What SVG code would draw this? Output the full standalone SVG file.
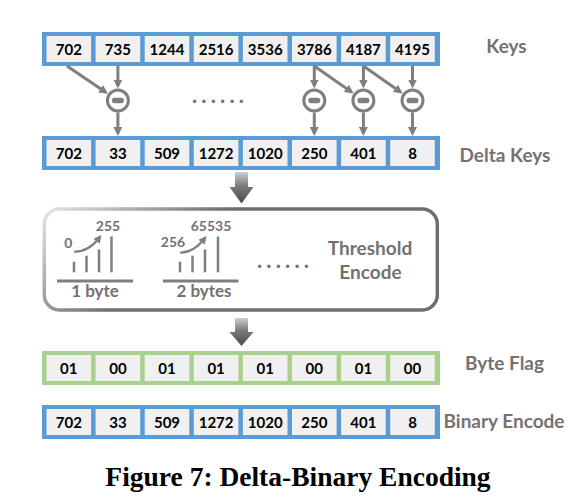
<svg xmlns="http://www.w3.org/2000/svg" width="578" height="502" viewBox="0 0 578 502">
<style>
.blue{fill:#5b9bd5}
.green{fill:#a9d18e}
.cell{fill:#f0f0f0}
.ct{font-family:Lato,"Liberation Sans",sans-serif;font-weight:bold;font-size:15px;fill:#000;text-anchor:middle}
.lbl{font-family:Lato,"Liberation Sans",sans-serif;font-weight:bold;font-size:19px;fill:#767171;text-anchor:middle}
.sm{font-family:Lato,"Liberation Sans",sans-serif;font-weight:bold;font-size:14px;fill:#767171;text-anchor:middle}
.by{font-family:Lato,"Liberation Sans",sans-serif;font-weight:bold;font-size:17px;fill:#767171;text-anchor:middle}
.dots{font-family:Lato,"Liberation Sans",sans-serif;font-weight:bold;font-size:22px;fill:#767171}
.conn{stroke:#7f7f7f;stroke-width:3;fill:none;marker-end:url(#ah)}
.circ{fill:#fff;stroke:#7f7f7f;stroke-width:3}
.minus{fill:#7f7f7f}
.bar{stroke:#7f7f7f;stroke-width:2.5}
.base{stroke:#7f7f7f;stroke-width:3}
.curve{stroke:#7f7f7f;stroke-width:2.2;fill:none;marker-end:url(#ah2)}
.big{fill:url(#bigGrad)}
.cap{font-family:"Liberation Serif","Times New Roman",serif;font-weight:bold;font-size:27.5px;fill:#000;text-anchor:middle}
</style>
<defs>
<marker id="ah" viewBox="0 0 10 10" refX="7" refY="5" markerWidth="9" markerHeight="9" markerUnits="userSpaceOnUse" orient="auto">
<path d="M0,0 L10,5 L0,10 Z" fill="#7f7f7f"/>
</marker>
<marker id="ah2" viewBox="0 0 10 10" refX="6" refY="5" markerWidth="8" markerHeight="8" markerUnits="userSpaceOnUse" orient="auto">
<path d="M0,0 L10,5 L0,10 Z" fill="#7f7f7f"/>
</marker>
<linearGradient id="bigGrad" x1="0" y1="0" x2="0" y2="1">
<stop offset="0" stop-color="#cfcfcf"/>
<stop offset="0.45" stop-color="#7a7a7a"/>
<stop offset="1" stop-color="#4a4a4a"/>
</linearGradient>
<linearGradient id="boxGrad" gradientUnits="userSpaceOnUse" x1="44" y1="209" x2="120" y2="300">
<stop offset="0" stop-color="#e6e6e6"/>
<stop offset="1" stop-color="#6f6f6f"/>
</linearGradient>
</defs>

<g id="keys">
<rect class="blue" x="42" y="32" width="398" height="34"/>
<rect class="cell" x="46.5" y="36" width="44.6" height="26"/>
<rect class="cell" x="95.6" y="36" width="44.6" height="26"/>
<rect class="cell" x="144.7" y="36" width="44.6" height="26"/>
<rect class="cell" x="193.8" y="36" width="44.6" height="26"/>
<rect class="cell" x="242.9" y="36" width="44.6" height="26"/>
<rect class="cell" x="292" y="36" width="44.6" height="26"/>
<rect class="cell" x="341.1" y="36" width="44.6" height="26"/>
<rect class="cell" x="390.2" y="36" width="44.6" height="26"/>
<text class="ct" x="68.8" y="54.5">702</text>
<text class="ct" x="117.9" y="54.5">735</text>
<text class="ct" x="167" y="54.5">1244</text>
<text class="ct" x="216.1" y="54.5">2516</text>
<text class="ct" x="265.2" y="54.5">3536</text>
<text class="ct" x="314.3" y="54.5">3786</text>
<text class="ct" x="363.4" y="54.5">4187</text>
<text class="ct" x="412.5" y="54.5">4195</text>
<text class="lbl" x="506.5" y="53.3">Keys</text>
</g>

<g id="connectors">
<line class="conn" x1="67" y1="66" x2="105.7" y2="92.3"/>
<line class="conn" x1="117.9" y1="66" x2="117.9" y2="85.8"/>
<line class="conn" x1="117.9" y1="112.5" x2="117.9" y2="133.3"/>
<line class="conn" x1="314.3" y1="66" x2="314.3" y2="85.8"/>
<line class="conn" x1="314.3" y1="112.5" x2="314.3" y2="133.3"/>
<line class="conn" x1="314.3" y1="66" x2="351.4" y2="92"/>
<line class="conn" x1="363.4" y1="66" x2="363.4" y2="85.8"/>
<line class="conn" x1="363.4" y1="112.5" x2="363.4" y2="133.3"/>
<line class="conn" x1="363.4" y1="66" x2="400.5" y2="92"/>
<line class="conn" x1="412.5" y1="66" x2="412.5" y2="85.8"/>
<line class="conn" x1="412.5" y1="112.5" x2="412.5" y2="133.3"/>
<path class="big" d="M235,172 H248 V187 H253.5 L241.5,203.5 L229.5,187 H235 Z"/>
<path class="big" d="M235,318 H248 V332 H253.5 L241.5,346 L229.5,332 H235 Z"/>
</g>

<g id="minus-ops">
<circle class="circ" cx="117.9" cy="100.5" r="10.5"/>
<rect class="minus" x="111.9" y="97.8" width="12" height="5.4" rx="2.7"/>
<circle class="circ" cx="314.3" cy="100.5" r="10.5"/>
<rect class="minus" x="308.3" y="97.8" width="12" height="5.4" rx="2.7"/>
<circle class="circ" cx="363.4" cy="100.5" r="10.5"/>
<rect class="minus" x="357.4" y="97.8" width="12" height="5.4" rx="2.7"/>
<circle class="circ" cx="412.5" cy="100.5" r="10.5"/>
<rect class="minus" x="406.5" y="97.8" width="12" height="5.4" rx="2.7"/>
<text class="dots" x="192" y="103" textLength="52" lengthAdjust="spacing">......</text>
</g>

<g id="delta-keys">
<rect class="blue" x="42" y="136" width="398" height="34"/>
<rect class="cell" x="46.5" y="140" width="44.6" height="26"/>
<rect class="cell" x="95.6" y="140" width="44.6" height="26"/>
<rect class="cell" x="144.7" y="140" width="44.6" height="26"/>
<rect class="cell" x="193.8" y="140" width="44.6" height="26"/>
<rect class="cell" x="242.9" y="140" width="44.6" height="26"/>
<rect class="cell" x="292" y="140" width="44.6" height="26"/>
<rect class="cell" x="341.1" y="140" width="44.6" height="26"/>
<rect class="cell" x="390.2" y="140" width="44.6" height="26"/>
<text class="ct" x="68.8" y="158.5">702</text>
<text class="ct" x="117.9" y="158.5">33</text>
<text class="ct" x="167" y="158.5">509</text>
<text class="ct" x="216.1" y="158.5">1272</text>
<text class="ct" x="265.2" y="158.5">1020</text>
<text class="ct" x="314.3" y="158.5">250</text>
<text class="ct" x="363.4" y="158.5">401</text>
<text class="ct" x="412.5" y="158.5">8</text>
<text class="lbl" x="505" y="161.7">Delta Keys</text>
</g>

<g id="threshold-encode">
<rect x="44.3" y="209" width="393" height="101" rx="15" fill="#fff" stroke="url(#boxGrad)" stroke-width="3.5"/>
<line class="base" x1="57" y1="281" x2="133" y2="281"/>
<line class="bar" x1="74" y1="261.7" x2="74" y2="272.3"/>
<line class="bar" x1="86.5" y1="255.7" x2="86.5" y2="272.3"/>
<line class="bar" x1="99" y1="249.3" x2="99" y2="272.3"/>
<line class="bar" x1="111.5" y1="236.5" x2="111.5" y2="272.3"/>
<path class="curve" d="M74,251.5 C84,252 93,246 99.5,237.5"/>
<text class="sm" x="68.3" y="247.7">0</text>
<text class="sm" x="108" y="230.5">255</text>
<text class="by" x="95" y="296.7">1 byte</text>
<line class="base" x1="163" y1="281" x2="238.5" y2="281"/>
<line class="bar" x1="180" y1="261.7" x2="180" y2="272.3"/>
<line class="bar" x1="192.5" y1="255.7" x2="192.5" y2="272.3"/>
<line class="bar" x1="205" y1="249.3" x2="205" y2="272.3"/>
<line class="bar" x1="218" y1="236.5" x2="218" y2="272.3"/>
<path class="curve" d="M180,252.5 C190,253 198,247 204.5,238.5"/>
<text class="sm" x="173" y="246.7">256</text>
<text class="sm" x="211" y="230.5">65535</text>
<text class="by" x="204" y="296.7">2 bytes</text>
<text class="dots" x="257" y="268" textLength="52" lengthAdjust="spacing">......</text>
<text class="lbl" x="370" y="255">Threshold</text>
<text class="lbl" x="370.5" y="279.3">Encode</text>
</g>

<g id="byte-flag">
<rect class="green" x="42" y="351" width="398" height="34"/>
<rect class="cell" x="46.5" y="355" width="44.6" height="26"/>
<rect class="cell" x="95.6" y="355" width="44.6" height="26"/>
<rect class="cell" x="144.7" y="355" width="44.6" height="26"/>
<rect class="cell" x="193.8" y="355" width="44.6" height="26"/>
<rect class="cell" x="242.9" y="355" width="44.6" height="26"/>
<rect class="cell" x="292" y="355" width="44.6" height="26"/>
<rect class="cell" x="341.1" y="355" width="44.6" height="26"/>
<rect class="cell" x="390.2" y="355" width="44.6" height="26"/>
<text class="ct" x="68.8" y="373.5">01</text>
<text class="ct" x="117.9" y="373.5">00</text>
<text class="ct" x="167" y="373.5">01</text>
<text class="ct" x="216.1" y="373.5">01</text>
<text class="ct" x="265.2" y="373.5">01</text>
<text class="ct" x="314.3" y="373.5">00</text>
<text class="ct" x="363.4" y="373.5">01</text>
<text class="ct" x="412.5" y="373.5">00</text>
<text class="lbl" x="504.5" y="370">Byte Flag</text>
</g>

<g id="binary-encode">
<rect class="blue" x="42" y="405" width="398" height="34"/>
<rect class="cell" x="46.5" y="409" width="44.6" height="26"/>
<rect class="cell" x="95.6" y="409" width="44.6" height="26"/>
<rect class="cell" x="144.7" y="409" width="44.6" height="26"/>
<rect class="cell" x="193.8" y="409" width="44.6" height="26"/>
<rect class="cell" x="242.9" y="409" width="44.6" height="26"/>
<rect class="cell" x="292" y="409" width="44.6" height="26"/>
<rect class="cell" x="341.1" y="409" width="44.6" height="26"/>
<rect class="cell" x="390.2" y="409" width="44.6" height="26"/>
<text class="ct" x="68.8" y="427.5">702</text>
<text class="ct" x="117.9" y="427.5">33</text>
<text class="ct" x="167" y="427.5">509</text>
<text class="ct" x="216.1" y="427.5">1272</text>
<text class="ct" x="265.2" y="427.5">1020</text>
<text class="ct" x="314.3" y="427.5">250</text>
<text class="ct" x="363.4" y="427.5">401</text>
<text class="ct" x="412.5" y="427.5">8</text>
<text class="lbl" x="504" y="428">Binary Encode</text>
</g>

<text class="cap" x="298" y="486">Figure 7: Delta-Binary Encoding</text>
</svg>
